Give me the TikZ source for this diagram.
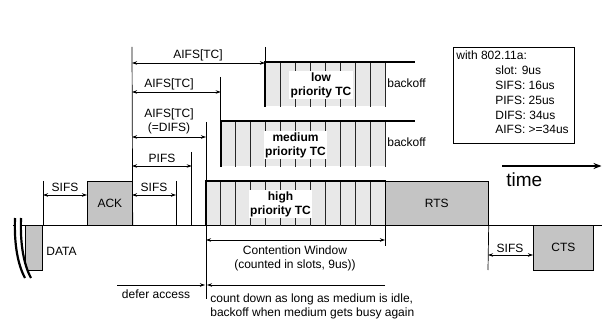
\documentclass[tikz,border=0pt]{standalone}
\usepackage{fontspec}
\setmainfont{Liberation Sans}
\usetikzlibrary{arrows.meta}
\definecolor{framegrey}{HTML}{C4C4C4}
\definecolor{slotgrey}{HTML}{E8E8E8}
\begin{document}
\begin{tikzpicture}[x=1pt,y=-1pt,line width=0.7pt,
  txt/.style={font=\fontsize{12}{14}\selectfont, inner sep=0pt},
  boxframe/.style={draw=black, line width=0.7pt, fill=framegrey, inner sep=0pt, font=\fontsize{12}{14}\selectfont},
  slotfill/.style={fill=slotgrey, inner sep=0pt, draw=none},
  slotline/.style={line width=0.7pt, draw=black!85},
  thickedge/.style={line width=1.6pt},
  breakline/.style={line width=2.2pt},
  prio/.style={fill=white, inner sep=1.5pt, align=center, font=\fontsize{12}{14}\selectfont\bfseries},
  dimarrow/.style={{Stealth[length=5pt,width=3.5pt]}-{Stealth[length=5pt,width=3.5pt]}},
  rarrow/.style={-{Stealth[length=5pt,width=3.5pt]}},
]
\useasboundingbox (0,0) rectangle (602,323);

% baseline (medium)
\coordinate (b0) at (13,225);
\coordinate (b1) at (602,225);
\draw (b0) -- (b1);

% DATA frame with break mark
\node[boxframe, anchor=north east, minimum width=17pt, minimum height=45pt] (data) at (43,225) {};
\node[txt, anchor=base west] (datal) at (46,255) {DATA};
\path[fill=white] (15,218) .. controls (14,245) and (18,265) .. (25,278) -- (31,278) .. controls (24,265) and (20,245) .. (21,218) -- cycle;
\draw[breakline] (15,218) .. controls (14,245) and (18,265) .. (25,278);
\draw[breakline] (21,218) .. controls (20,245) and (24,265) .. (31,278);

% ACK
\node[boxframe, anchor=north west, minimum width=45pt, minimum height=44pt] (ack) at (87,181) {ACK};

% vertical marks
\coordinate (v43) at (43,181);
\draw (v43) -- (data.north east);
\coordinate (v132t) at (132,47);
\draw (v132t) -- (ack.south east);
\coordinate (v176t) at (176,181);
\coordinate (v176b) at (176,225);
\draw (v176t) -- (v176b);
\coordinate (v192t) at (191.7,152);
\coordinate (v192b) at (191.7,225);
\draw (v192t) -- (v192b);
\coordinate (v206t) at (206,122);
\coordinate (v206b) at (206,299);
\draw (v206t) -- (v206b);

% SIFS after DATA
\coordinate (s1a) at (43,195);
\coordinate (s1b) at (87,195);
\draw[dimarrow] (s1a) -- (s1b);
\node[txt, anchor=base] (s1l) at (65,192) {SIFS};
% SIFS after ACK
\coordinate (s2a) at (132,195);
\coordinate (s2b) at (176,195);
\draw[dimarrow] (s2a) -- (s2b);
\node[txt, anchor=base] (s2l) at (154,192) {SIFS};
% PIFS
\coordinate (pa) at (132,166);
\coordinate (pb) at (191.7,166);
\draw[dimarrow] (pa) -- (pb);
\node[txt, anchor=base] (pl) at (162,163) {PIFS};
% AIFS (=DIFS)
\coordinate (da) at (132,137);
\coordinate (db) at (206,137);
\draw[dimarrow] (da) -- (db);
\node[txt, anchor=base] (dl1) at (169,118) {AIFS[TC]};
\node[txt, anchor=base] (dl2) at (169,132) {(=DIFS)};
% AIFS medium
\coordinate (ma) at (132,92);
\coordinate (mb) at (220.7,92);
\draw[dimarrow] (ma) -- (mb);
\node[txt, anchor=base] (ml) at (169,88) {AIFS[TC]};
% AIFS low
\coordinate (la) at (132,63);
\coordinate (lb) at (265,63);
\draw[dimarrow] (la) -- (lb);
\node[txt, anchor=base] (ll) at (198,59) {AIFS[TC]};

% low priority backoff
\node[slotfill, anchor=north west, minimum width=120pt, minimum height=44pt] (low) at (265,62) {};
\foreach \i in {1,...,8} \draw[slotline] ([xshift=\i*15pt]low.north west) -- ([xshift=\i*15pt]low.south west);
\coordinate (lowend) at (415,62);
\coordinate (lowtop) at (265,47);
\draw (lowtop) -- (low.north west);
\draw[thickedge] (low.south west) -- (low.north west) -- (lowend);
\node[prio] (lowl) at (321,85) {low\\priority TC};
\node[txt, anchor=base west] (lowb) at (387,88) {backoff};

% medium priority backoff
\node[slotfill, anchor=north west, minimum width=165pt, minimum height=45pt] (med) at (220.7,121) {};
\foreach \i in {1,...,11} \draw[slotline] ([xshift=\i*15pt]med.north west) -- ([xshift=\i*15pt]med.south west);
\coordinate (medend) at (415,121);
\coordinate (medtop) at (220.7,77);
\draw (medtop) -- (med.north west);
\draw[thickedge] (med.south west) -- (med.north west) -- (medend);
\node[prio] (medl) at (295.5,145) {medium\\priority TC};
\node[txt, anchor=base west] (medb) at (387,147) {backoff};

% high priority backoff
\node[slotfill, anchor=north west, minimum width=180pt, minimum height=44pt] (high) at (205.7,181) {};
\foreach \i in {1,...,12} \draw[slotline] ([xshift=\i*15pt]high.north west) -- ([xshift=\i*15pt]high.south west);
\draw[thickedge] (high.south west) -- (high.north west) -- (high.north east);
\node[prio] (highl) at (280.5,204) {high\\priority TC};

% RTS
\node[boxframe, anchor=north west, minimum width=103pt, minimum height=44pt] (rts) at (385,181) {RTS};
\draw[thickedge] (high.north west) -- (high.north east);

% Contention window
\coordinate (cwa) at (206,240);
\coordinate (cwb) at (385,240);
\coordinate (cwv) at (385,246);
\draw (rts.south west) -- (cwv);
\draw[dimarrow] (cwa) -- (cwb);
\node[txt, anchor=base] (cw1) at (295,254) {Contention Window};
\node[txt, anchor=base] (cw2) at (295,268) {(counted in slots, 9us))};

% defer access / count down
\coordinate (dfa) at (117,285);
\coordinate (dfb) at (205,285);
\draw[rarrow] (dfa) -- (dfb);
\node[txt, anchor=base] (dfl) at (156,298) {defer access};
\coordinate (cda) at (385,285);
\coordinate (cdb) at (207,285);
\draw[rarrow] (cda) -- (cdb);
\node[txt, anchor=base west] (cd1) at (210,302) {count down as long as medium is idle,};
\node[txt, anchor=base west] (cd2) at (210,316) {backoff when medium gets busy again};

% SIFS + CTS
\node[boxframe, anchor=north west, minimum width=60pt, minimum height=45pt] (cts) at (533,225) {CTS};
\coordinate (v488b) at (488,270);
\draw (rts.south east) -- (v488b);
\coordinate (s3a) at (488,255);
\coordinate (s3b) at (533,255);
\draw[dimarrow] (s3a) -- (s3b);
\node[txt, anchor=base] (s3l) at (510,252) {SIFS};

% info box
\node[draw, line width=0.7pt, anchor=north west, minimum width=121pt, minimum height=96pt, inner sep=0pt] (info) at (453,47) {};
\node[txt, anchor=base west] (i0) at (456,60) {with 802.11a:};
\node[txt, anchor=base west] (i1) at (495,75) {slot: 9us};
\node[txt, anchor=base west] (i2) at (495,90) {SIFS: 16us};
\node[txt, anchor=base west] (i3) at (495,105) {PIFS: 25us};
\node[txt, anchor=base west] (i4) at (495,120) {DIFS: 34us};
\node[txt, anchor=base west] (i5) at (495,134) {AIFS: >=34us};

% time arrow
\coordinate (ta) at (502,166);
\coordinate (tb) at (601.5,166);
\draw[line width=2pt, -{Stealth[length=8pt,width=6pt]}] (ta) -- (tb);
\node[font=\fontsize{19}{22}\selectfont, inner sep=0pt, anchor=base west] (tl) at (506,187) {time};
\end{tikzpicture}
\end{document}
